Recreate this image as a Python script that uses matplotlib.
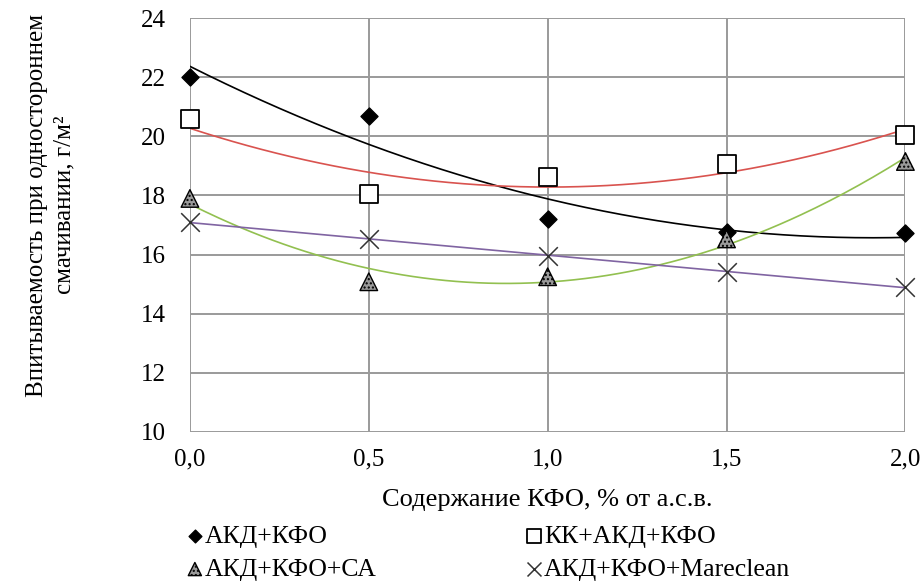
import matplotlib.pyplot as plt
import numpy as np

plt.rcParams['font.family'] = 'Liberation Serif'
plt.rcParams['font.size'] = 18

# Данные
x = np.array([0.0, 0.5, 1.0, 1.5, 2.0])
akd_kfo = [22.0, 20.69, 17.22, 16.76, 16.73]
kk_akd_kfo = [20.58, 18.06, 18.62, 19.05, 20.05]
akd_kfo_sa = [17.9, 15.08, 15.25, 16.53, 19.15]
akd_kfo_mare = [17.1, 16.53, 15.95, 15.42, 14.9]

xticks = [0.0, 0.5, 1.0, 1.5, 2.0]
xtick_labels = ['0,0', '0,5', '1,0', '1,5', '2,0']

fig = plt.figure(figsize=(9.22, 5.86), dpi=100)
ax = fig.add_axes([0.206, 0.263, 0.776, 0.706])

xs = np.linspace(0, 2, 200)

# линии тренда (полиномиальные / линейная)
ax.plot(xs, np.polyval(np.polyfit(x, akd_kfo, 2), xs), color='black', lw=1.2, zorder=2)
ax.plot(xs, np.polyval(np.polyfit(x, kk_akd_kfo, 2), xs), color='#d9534f', lw=1.2, zorder=2)
ax.plot(xs, np.polyval(np.polyfit(x, akd_kfo_sa, 2), xs), color='#92c050', lw=1.2, zorder=2)
ax.plot(xs, np.polyval(np.polyfit(x, akd_kfo_mare, 1), xs), color='#8064a2', lw=1.2, zorder=2)

# маркеры
h1 = ax.scatter(x, akd_kfo, marker='D', s=75, color='black', zorder=4, clip_on=False,
                label='АКД+КФО')
h2 = ax.scatter(x, kk_akd_kfo, marker='s', s=170, facecolor='white', edgecolor='black',
                linewidths=1.3, zorder=3, clip_on=False, label='КК+АКД+КФО')
h3 = ax.scatter(x, akd_kfo_sa, marker='^', s=160, facecolor='#9a9a9a', edgecolor='black',
                hatch='....', linewidths=1.0, zorder=4, clip_on=False, label='АКД+КФО+СА')
h4 = ax.scatter(x, akd_kfo_mare, marker='x', s=180, color='#333333', linewidths=1.1,
                zorder=4, clip_on=False, label='АКД+КФО+Mareclean')

ax.set_xlim(0, 2)
ax.set_ylim(10, 24)
ax.set_xticks(xticks)
ax.set_xticklabels(xtick_labels)
ax.set_yticks(np.arange(10, 25, 2))
ax.tick_params(axis='y', length=0, pad=17, labelsize=18)
ax.tick_params(axis='x', length=0, pad=12, labelsize=18)
ax.grid(True, color='#9a9a9a', lw=1.4)
ax.set_axisbelow(True)
for s in ax.spines.values():
    s.set_visible(False)

ax.set_xlabel('Содержание КФО, % от а.с.в.', fontsize=19, labelpad=13)
fig.text(0.055, 0.65, 'Впитываемость при одностороннем\nсмачивании, г/м²',
         rotation=90, ha='center', va='center', fontsize=18, linespacing=1.35)

# порядок: по строкам, как в оригинале
leg = fig.legend(handles=[h1, h3, h2, h4], ncol=2, loc='upper left',
                 bbox_to_anchor=(0.203, 0.104), frameon=False, fontsize=18.5,
                 borderpad=0, borderaxespad=0,
                 handlelength=0.6, handletextpad=0.1, columnspacing=5.8,
                 labelspacing=0.38, markerscale=0.75)

fig.savefig('out.png', dpi=100)
